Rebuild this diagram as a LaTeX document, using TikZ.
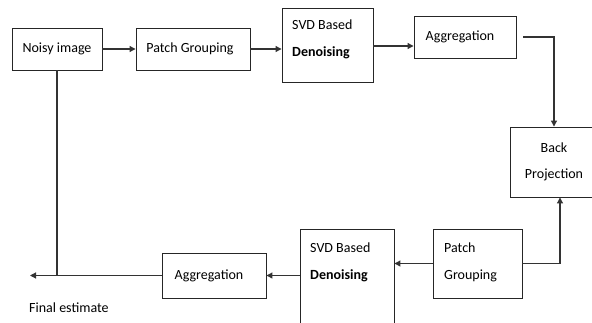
\documentclass[tikz,border=0pt]{standalone}
\usepackage{fontspec}
\setmainfont{Carlito}
\usepackage{tikz}
\usetikzlibrary{positioning,arrows.meta,calc}

\begin{document}
\begin{tikzpicture}[
    x=1pt,y=-1pt,>={Triangle[length=6pt,width=6pt]},
    blk/.style={draw=black!85,line width=0.9pt,inner sep=0pt,
      font=\fontsize{14}{26.5}\selectfont},
    txt/.style={align=left,inner sep=0pt,anchor=north west,
      font=\fontsize{14}{26.5}\selectfont},
    flow/.style={->,draw=black!80,line width=1.1pt}
]
\useasboundingbox (0,0) rectangle (592,322);

% upper row
\node[blk,minimum width=90pt,minimum height=42pt] (noisy) at (57,49) {Noisy image};
\node[blk,minimum width=114pt,minimum height=42pt] (patchA) at (193,49) {Patch Grouping\hspace*{6pt}};
\node[blk,minimum width=91pt,minimum height=74pt] (svdA) at (327.5,45) {};
\node[txt] (svdAtxt) at (292,20) {SVD Based\\\textbf{Denoising}};
\node[blk,minimum width=102pt,minimum height=42pt] (aggA) at (465,37) {Aggregation\hspace*{10pt}};

% right side
\node[blk,minimum width=88pt,minimum height=70pt,align=center] (back) at (554,162)
  {Back\\Projection};

% lower row
\node[blk,minimum width=89pt,minimum height=69pt] (patchB) at (477.5,263.5) {};
\node[txt] (patchBtxt) at (444,243) {Patch\\Grouping};
\node[blk,minimum width=94pt,minimum height=100pt] (svdB) at (347,279) {};
\node[txt] (svdBtxt) at (310,243) {SVD Based\\\textbf{Denoising}};
\node[blk,minimum width=104pt,minimum height=45pt] (aggB) at (214,275.5) {Aggregation\hspace*{10pt}};

\coordinate (out) at (30,275.5);
\node[anchor=west,inner sep=0pt,font=\fontsize{14}{16}\selectfont] (final) at (29,308)
  {Final estimate};

\draw[flow] (noisy.east) -- (patchA.west);
\draw[flow] (patchA.east) -- (patchA.east -| svdA.west);
\draw[flow] ([yshift=-1pt]svdA.east) -- ([yshift=-1pt]svdA.east -| aggA.west);
\draw[flow,shorten <=7pt] (aggA.east) -| (back.north);
\draw[flow] (patchB.east) -| ([xshift=6pt]back.south);
\draw[flow] (patchB.west) -- (patchB.west -| svdB.east);
\draw[flow] (aggB.east -| svdB.west) -- (aggB.east);
\draw[flow] (aggB.west) -- (out);
\draw[draw=black!80,line width=1.1pt] (noisy.south) -- (noisy.south |- aggB.west);
\end{tikzpicture}
\end{document}
